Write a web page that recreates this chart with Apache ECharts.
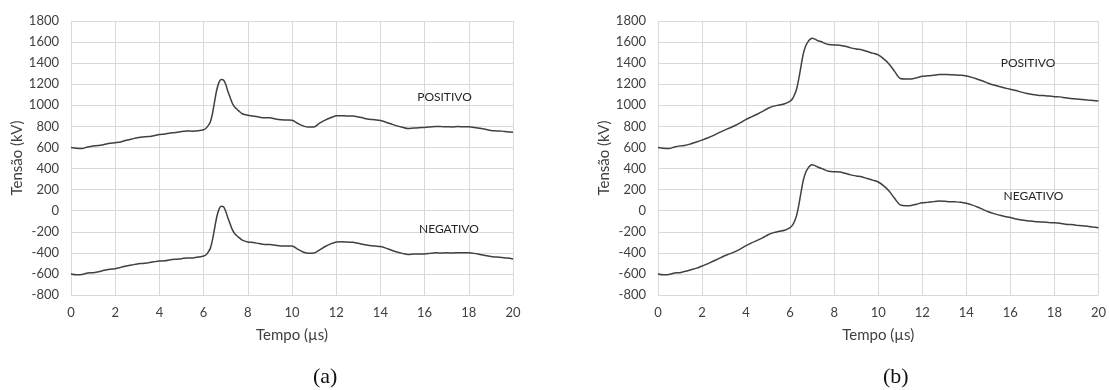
<!DOCTYPE html>
<html>
<head>
<meta charset="utf-8">
<script src="https://cdn.jsdelivr.net/npm/echarts@6/dist/echarts.min.js"></script>
<style>
  html, body { margin: 0; padding: 0; background: #fff; }
  #chart { width: 1109px; height: 390px; }
</style>
</head>
<body>
<div id="chart"></div>
<script>
// Sample instants (µs), shared by every waveform
const tempo = [
  0, 0.25, 0.5, 0.75, 1, 1.25, 1.5, 1.75, 2, 2.25, 2.5, 2.75, 3, 3.25, 3.5, 3.75,
  4, 4.25, 4.5, 4.75, 5, 5.25, 5.5, 5.75, 6,
  6.1, 6.2, 6.3, 6.4, 6.5, 6.6, 6.7, 6.8, 6.9, 7, 7.1, 7.2, 7.3, 7.4, 7.5, 7.6,
  7.75, 8, 8.25, 8.5, 8.75, 9, 9.25, 9.5, 9.75, 10, 10.25, 10.5, 10.75, 11,
  11.25, 11.5, 11.75, 12, 12.25, 12.5, 12.75, 13, 13.25, 13.5, 13.75, 14,
  14.25, 14.5, 14.75, 15, 15.25, 15.5, 15.75, 16, 16.25, 16.5, 16.75, 17,
  17.25, 17.5, 17.75, 18, 18.25, 18.5, 18.75, 19, 19.25, 19.5, 19.75, 20
];

// (a) tensões (kV)
const aPositivo = [
  600, 592, 590, 605, 615, 618, 628, 640, 645, 652, 668, 680, 692, 700, 703, 712,
  722, 728, 738, 742, 752, 756, 755, 758, 768,
  780, 805, 840, 920, 1040, 1150, 1220, 1245, 1240, 1200, 1130, 1075, 1020, 985, 965, 945,
  920, 905, 898, 888, 882, 882, 870, 862, 860, 858, 830, 805, 793, 795,
  830, 860, 882, 900, 902, 898, 898, 890, 878, 868, 862, 855,
  840, 822, 805, 792, 780, 785, 788, 790, 795, 800, 798, 797,
  795, 798, 797, 797, 790, 782, 772, 760, 757, 755, 748, 744
];
const aNegativo = [
  -600, -608, -605, -592, -588, -580, -566, -556, -550, -538, -525, -515, -505, -500, -493, -485,
  -478, -476, -466, -460, -455, -448, -448, -440, -430,
  -420, -395, -360, -280, -165, -55, 15, 42, 38, -5, -70, -125, -180, -215, -238, -255,
  -280, -297, -302, -312, -320, -320, -328, -335, -336, -336, -365, -392, -404, -402,
  -372, -340, -315, -297, -294, -298, -300, -310, -320, -330, -336, -340,
  -355, -375, -392, -405, -415, -412, -410, -410, -405, -400, -402, -400,
  -402, -398, -400, -400, -405, -415, -425, -435, -440, -445, -450, -458
];

// (b) tensões (kV)
const bPositivo = [
  600, 592, 590, 605, 615, 620, 635, 652, 670, 690, 712, 738, 762, 785, 808, 835,
  866, 890, 915, 942, 972, 992, 1003, 1015, 1040,
  1060, 1100, 1160, 1260, 1380, 1490, 1560, 1600, 1625, 1636, 1630, 1620, 1610, 1605, 1595, 1585,
  1578, 1572, 1570, 1560, 1545, 1535, 1528, 1510, 1495, 1478, 1440, 1390, 1320, 1255,
  1250, 1250, 1262, 1275, 1280, 1285, 1292, 1293, 1290, 1288, 1285, 1278,
  1265, 1248, 1230, 1210, 1192, 1178, 1165, 1152, 1140, 1125, 1112, 1102,
  1096, 1092, 1088, 1082, 1080, 1072, 1065, 1060, 1055, 1050, 1046, 1041
];
const bNegativo = [
  -600, -608, -605, -592, -588, -575, -560, -545, -525, -505, -480, -455, -430, -410, -388, -362,
  -332, -305, -282, -258, -228, -208, -196, -185, -160,
  -140, -100, -40, 60, 180, 290, 360, 400, 425, 435, 430, 420, 410, 402, 395, 385,
  375, 370, 368, 355, 340, 330, 322, 305, 290, 272, 235, 185, 115, 55,
  48, 50, 62, 75, 80, 86, 92, 90, 86, 84, 80, 70,
  55, 35, 12, -10, -28, -42, -55, -65, -78, -88, -95, -100,
  -105, -108, -112, -115, -120, -128, -132, -137, -142, -148, -155, -162
];

// Curve labels: [text, t (µs), kV]
const rotulosA = [['POSITIVO', 16.9, 1080], ['NEGATIVO', 17.1, -172]];
const rotulosB = [['POSITIVO', 16.8, 1400], ['NEGATIVO', 17.05, 140]];

const INK = '#404040';
const GRID = '#d9d9d9';
const FONT = 'Lato, "Open Sans", sans-serif';

function pares(vals) { return tempo.map((t, i) => [t, vals[i]]); }

function eixoX(idx) {
  return {
    type: 'value', gridIndex: idx, min: 0, max: 20, interval: 2,
    name: 'Tempo (µs)', nameLocation: 'middle', nameGap: 33,
    nameTextStyle: { color: INK, fontSize: 15, fontFamily: FONT },
    axisLine: { show: false }, axisTick: { show: false },
    axisLabel: { color: INK, fontSize: 13, fontFamily: FONT, margin: 11, formatter: v => String(v) },
    splitLine: { show: true, lineStyle: { color: GRID, width: 1 } }
  };
}
function eixoY(idx) {
  return {
    type: 'value', gridIndex: idx, min: -800, max: 1800, interval: 200,
    name: 'Tensão (kV)', nameLocation: 'middle', nameGap: 45, nameRotate: 90,
    nameTextStyle: { color: INK, fontSize: 15, fontFamily: FONT },
    axisLine: { show: false }, axisTick: { show: false },
    axisLabel: { color: INK, fontSize: 13, fontFamily: FONT, margin: 12, formatter: v => String(v) },
    splitLine: { show: true, lineStyle: { color: GRID, width: 1 } }
  };
}
function curva(idx, vals, rotulo) {
  return {
    type: 'line', xAxisIndex: idx, yAxisIndex: idx, data: pares(vals),
    showSymbol: false, smooth: 0.3, animation: false,
    lineStyle: { color: INK, width: 1.5 },
    markPoint: {
      symbol: 'circle', symbolSize: 0, silent: true,
      label: { show: true, position: 'inside', formatter: rotulo[0], color: '#262626', fontSize: 12, fontFamily: FONT },
      data: [{ coord: [rotulo[1], rotulo[2]] }]
    }
  };
}

const chart = echarts.init(document.getElementById('chart'), null, { renderer: 'canvas' });
chart.setOption({
  animation: false,
  backgroundColor: '#ffffff',
  grid: [
    { left: 71, right: 596, top: 21, bottom: 95 },
    { left: 658, right: 10, top: 21, bottom: 95 }
  ],
  xAxis: [eixoX(0), eixoX(1)],
  yAxis: [eixoY(0), eixoY(1)],
  series: [
    curva(0, aPositivo, rotulosA[0]),
    curva(0, aNegativo, rotulosA[1]),
    curva(1, bPositivo, rotulosB[0]),
    curva(1, bNegativo, rotulosB[1])
  ],
  graphic: [
    { type: 'text', left: 313, top: 366, style: { text: '(a)', font: '22px "Liberation Serif", "Times New Roman", serif', fill: '#111' } },
    { type: 'text', left: 883, top: 366, style: { text: '(b)', font: '22px "Liberation Serif", "Times New Roman", serif', fill: '#111' } }
  ]
});
</script>
</body>
</html>
